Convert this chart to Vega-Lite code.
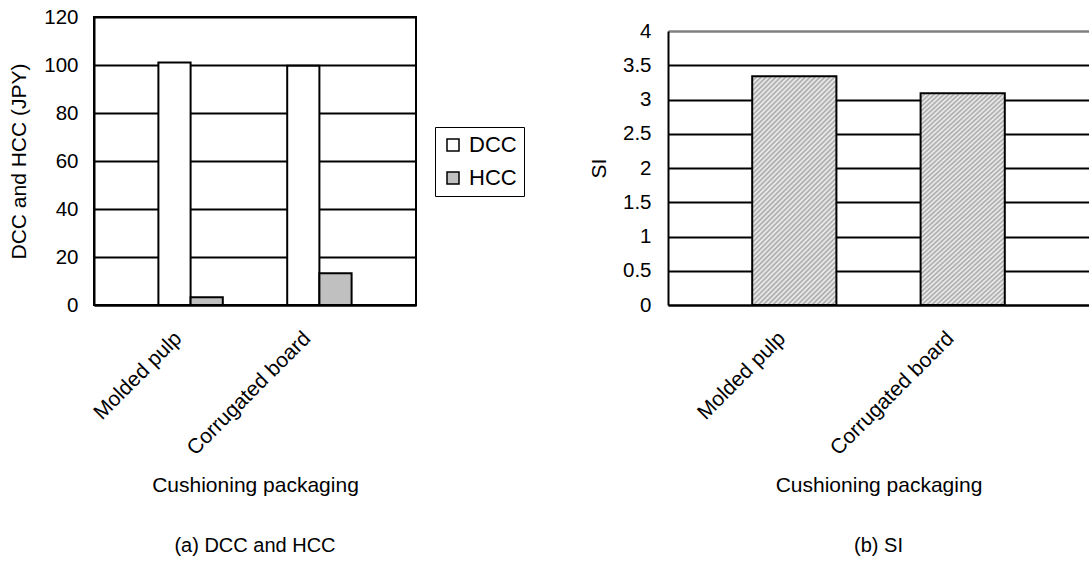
{
  "$schema": "https://vega.github.io/schema/vega-lite/v6.json",
  "padding": {"left": 7, "top": 6, "right": 0, "bottom": 0},
  "background": "white",
  "spacing": 171,
  "config": {
    "font": "Liberation Sans",
    "axis": {
      "labelFontSize": 20.5,
      "titleFontSize": 21,
      "labelColor": "black",
      "titleColor": "black",
      "titleFontWeight": "normal",
      "ticks": false,
      "domainColor": "black",
      "domainWidth": 2,
      "gridColor": "black",
      "gridWidth": 2,
      "gridOpacity": 1
    },
    "axisX": {"labelFontSize": 21},
    "legend": {"strokeColor": "black", "fillColor": "white"},
    "title": {"fontSize": 20, "fontWeight": "normal", "color": "black"}
  },
  "hconcat": [
    {
      "width": 322,
      "height": 288,
      "view": {"stroke": "black", "strokeWidth": 2},
      "title": {"text": "(a) DCC and HCC", "orient": "bottom", "frame": "group", "anchor": "middle", "baseline": "top", "offset": 41},
      "data": {
        "values": [
          {"packaging": "Molded pulp", "cost": "DCC", "value": 101},
          {"packaging": "Molded pulp", "cost": "HCC", "value": 3.2},
          {"packaging": "Corrugated board", "cost": "DCC", "value": 99.7},
          {"packaging": "Corrugated board", "cost": "HCC", "value": 13.2}
        ]
      },
      "mark": {"type": "bar", "stroke": "black", "strokeWidth": 2},
      "encoding": {
        "x": {
          "field": "packaging",
          "type": "nominal",
          "sort": ["Molded pulp", "Corrugated board"],
          "scale": {"paddingInner": 0.5, "paddingOuter": 0.5},
          "axis": {
            "title": "Cushioning packaging",
            "labelAngle": -45,
            "labelAlign": "right",
            "labelBaseline": "middle",
            "labelPadding": 30,
            "labelOffset": -12,
            "titlePadding": 16,
            "grid": false
          }
        },
        "xOffset": {
          "field": "cost",
          "type": "nominal",
          "sort": ["DCC", "HCC"],
          "scale": {"paddingInner": 0, "paddingOuter": 0}
        },
        "y": {
          "field": "value",
          "type": "quantitative",
          "scale": {"domain": [0, 120], "nice": false},
          "axis": {
            "title": "DCC and HCC (JPY)",
            "values": [0, 20, 40, 60, 80, 100, 120],
            "labelPadding": 16,
            "titlePadding": 14.5,
            "grid": true
          }
        },
        "fill": {
          "field": "cost",
          "type": "nominal",
          "sort": ["DCC", "HCC"],
          "scale": {"range": ["white", "#c0c0c0"]},
          "legend": {
            "title": null,
            "orient": "none",
            "legendX": 341,
            "legendY": 110,
            "direction": "vertical",
            "symbolType": "square",
            "symbolSize": 144,
            "symbolStrokeColor": "black",
            "symbolStrokeWidth": 1.5,
            "labelFontSize": 22,
            "labelColor": "black",
            "labelOffset": 5,
            "rowPadding": 11,
            "padding": 7
          }
        }
      }
    },
    {
      "width": 421,
      "height": 288,
      "view": {"stroke": null},
      "title": {"text": "(b) SI", "orient": "bottom", "frame": "group", "anchor": "middle", "baseline": "top", "offset": 41},
      "data": {
        "values": [
          {"packaging": "Molded pulp", "SI": 3.34},
          {"packaging": "Corrugated board", "SI": 3.09}
        ]
      },
      "resolve": {"axis": {"y": "independent"}},
      "encoding": {
        "x": {
          "field": "packaging",
          "type": "nominal",
          "sort": ["Molded pulp", "Corrugated board"],
          "scale": {"paddingInner": 0.5, "paddingOuter": 0.5},
          "axis": {
            "title": "Cushioning packaging",
            "labelAngle": -45,
            "labelAlign": "right",
            "labelBaseline": "middle",
            "labelPadding": 30,
            "labelOffset": -12,
            "titlePadding": 16,
            "grid": false
          }
        },
        "y": {
          "field": "SI",
          "type": "quantitative",
          "scale": {"domain": [0, 4], "nice": false, "range": [288, 14]},
          "axis": {
            "title": "SI",
            "format": "~g",
            "values": [0, 0.5, 1, 1.5, 2, 2.5, 3, 3.5, 4],
            "labelPadding": 17,
            "titlePadding": 13,
            "grid": true,
            "gridColor": {"condition": {"test": "datum.value === 4", "value": "#808080"}, "value": "black"},
            "gridWidth": {"condition": {"test": "datum.value === 4", "value": 2.5}, "value": 2}
          }
        }
      },
      "layer": [
        {
          "mark": {
            "type": "bar",
            "strokeWidth": 0,
            "fill": {
              "gradient": "linear",
              "x1": 0, "y1": 0, "x2": 0.443, "y2": 1.205,
              "stops": [
                {"offset": 0, "color": "#a6a6a6"}, {"offset": 0.0078125, "color": "#f2f2f2"},
                {"offset": 0.015625, "color": "#a6a6a6"}, {"offset": 0.0234375, "color": "#f2f2f2"},
                {"offset": 0.03125, "color": "#a6a6a6"}, {"offset": 0.0390625, "color": "#f2f2f2"},
                {"offset": 0.046875, "color": "#a6a6a6"}, {"offset": 0.0546875, "color": "#f2f2f2"},
                {"offset": 0.0625, "color": "#a6a6a6"}, {"offset": 0.0703125, "color": "#f2f2f2"},
                {"offset": 0.078125, "color": "#a6a6a6"}, {"offset": 0.0859375, "color": "#f2f2f2"},
                {"offset": 0.09375, "color": "#a6a6a6"}, {"offset": 0.1015625, "color": "#f2f2f2"},
                {"offset": 0.109375, "color": "#a6a6a6"}, {"offset": 0.1171875, "color": "#f2f2f2"},
                {"offset": 0.125, "color": "#a6a6a6"}, {"offset": 0.1328125, "color": "#f2f2f2"},
                {"offset": 0.140625, "color": "#a6a6a6"}, {"offset": 0.1484375, "color": "#f2f2f2"},
                {"offset": 0.15625, "color": "#a6a6a6"}, {"offset": 0.1640625, "color": "#f2f2f2"},
                {"offset": 0.171875, "color": "#a6a6a6"}, {"offset": 0.1796875, "color": "#f2f2f2"},
                {"offset": 0.1875, "color": "#a6a6a6"}, {"offset": 0.1953125, "color": "#f2f2f2"},
                {"offset": 0.203125, "color": "#a6a6a6"}, {"offset": 0.2109375, "color": "#f2f2f2"},
                {"offset": 0.21875, "color": "#a6a6a6"}, {"offset": 0.2265625, "color": "#f2f2f2"},
                {"offset": 0.234375, "color": "#a6a6a6"}, {"offset": 0.2421875, "color": "#f2f2f2"},
                {"offset": 0.25, "color": "#a6a6a6"}, {"offset": 0.2578125, "color": "#f2f2f2"},
                {"offset": 0.265625, "color": "#a6a6a6"}, {"offset": 0.2734375, "color": "#f2f2f2"},
                {"offset": 0.28125, "color": "#a6a6a6"}, {"offset": 0.2890625, "color": "#f2f2f2"},
                {"offset": 0.296875, "color": "#a6a6a6"}, {"offset": 0.3046875, "color": "#f2f2f2"},
                {"offset": 0.3125, "color": "#a6a6a6"}, {"offset": 0.3203125, "color": "#f2f2f2"},
                {"offset": 0.328125, "color": "#a6a6a6"}, {"offset": 0.3359375, "color": "#f2f2f2"},
                {"offset": 0.34375, "color": "#a6a6a6"}, {"offset": 0.3515625, "color": "#f2f2f2"},
                {"offset": 0.359375, "color": "#a6a6a6"}, {"offset": 0.3671875, "color": "#f2f2f2"},
                {"offset": 0.375, "color": "#a6a6a6"}, {"offset": 0.3828125, "color": "#f2f2f2"},
                {"offset": 0.390625, "color": "#a6a6a6"}, {"offset": 0.3984375, "color": "#f2f2f2"},
                {"offset": 0.40625, "color": "#a6a6a6"}, {"offset": 0.4140625, "color": "#f2f2f2"},
                {"offset": 0.421875, "color": "#a6a6a6"}, {"offset": 0.4296875, "color": "#f2f2f2"},
                {"offset": 0.4375, "color": "#a6a6a6"}, {"offset": 0.4453125, "color": "#f2f2f2"},
                {"offset": 0.453125, "color": "#a6a6a6"}, {"offset": 0.4609375, "color": "#f2f2f2"},
                {"offset": 0.46875, "color": "#a6a6a6"}, {"offset": 0.4765625, "color": "#f2f2f2"},
                {"offset": 0.484375, "color": "#a6a6a6"}, {"offset": 0.4921875, "color": "#f2f2f2"},
                {"offset": 0.5, "color": "#a6a6a6"}, {"offset": 0.5078125, "color": "#f2f2f2"},
                {"offset": 0.515625, "color": "#a6a6a6"}, {"offset": 0.5234375, "color": "#f2f2f2"},
                {"offset": 0.53125, "color": "#a6a6a6"}, {"offset": 0.5390625, "color": "#f2f2f2"},
                {"offset": 0.546875, "color": "#a6a6a6"}, {"offset": 0.5546875, "color": "#f2f2f2"},
                {"offset": 0.5625, "color": "#a6a6a6"}, {"offset": 0.5703125, "color": "#f2f2f2"},
                {"offset": 0.578125, "color": "#a6a6a6"}, {"offset": 0.5859375, "color": "#f2f2f2"},
                {"offset": 0.59375, "color": "#a6a6a6"}, {"offset": 0.6015625, "color": "#f2f2f2"},
                {"offset": 0.609375, "color": "#a6a6a6"}, {"offset": 0.6171875, "color": "#f2f2f2"},
                {"offset": 0.625, "color": "#a6a6a6"}, {"offset": 0.6328125, "color": "#f2f2f2"},
                {"offset": 0.640625, "color": "#a6a6a6"}, {"offset": 0.6484375, "color": "#f2f2f2"},
                {"offset": 0.65625, "color": "#a6a6a6"}, {"offset": 0.6640625, "color": "#f2f2f2"},
                {"offset": 0.671875, "color": "#a6a6a6"}, {"offset": 0.6796875, "color": "#f2f2f2"},
                {"offset": 0.6875, "color": "#a6a6a6"}, {"offset": 0.6953125, "color": "#f2f2f2"},
                {"offset": 0.703125, "color": "#a6a6a6"}, {"offset": 0.7109375, "color": "#f2f2f2"},
                {"offset": 0.71875, "color": "#a6a6a6"}, {"offset": 0.7265625, "color": "#f2f2f2"},
                {"offset": 0.734375, "color": "#a6a6a6"}, {"offset": 0.7421875, "color": "#f2f2f2"},
                {"offset": 0.75, "color": "#a6a6a6"}, {"offset": 0.7578125, "color": "#f2f2f2"},
                {"offset": 0.765625, "color": "#a6a6a6"}, {"offset": 0.7734375, "color": "#f2f2f2"},
                {"offset": 0.78125, "color": "#a6a6a6"}, {"offset": 0.7890625, "color": "#f2f2f2"},
                {"offset": 0.796875, "color": "#a6a6a6"}, {"offset": 0.8046875, "color": "#f2f2f2"},
                {"offset": 0.8125, "color": "#a6a6a6"}, {"offset": 0.8203125, "color": "#f2f2f2"},
                {"offset": 0.828125, "color": "#a6a6a6"}, {"offset": 0.8359375, "color": "#f2f2f2"},
                {"offset": 0.84375, "color": "#a6a6a6"}, {"offset": 0.8515625, "color": "#f2f2f2"},
                {"offset": 0.859375, "color": "#a6a6a6"}, {"offset": 0.8671875, "color": "#f2f2f2"},
                {"offset": 0.875, "color": "#a6a6a6"}, {"offset": 0.8828125, "color": "#f2f2f2"},
                {"offset": 0.890625, "color": "#a6a6a6"}, {"offset": 0.8984375, "color": "#f2f2f2"},
                {"offset": 0.90625, "color": "#a6a6a6"}, {"offset": 0.9140625, "color": "#f2f2f2"},
                {"offset": 0.921875, "color": "#a6a6a6"}, {"offset": 0.9296875, "color": "#f2f2f2"},
                {"offset": 0.9375, "color": "#a6a6a6"}, {"offset": 0.9453125, "color": "#f2f2f2"},
                {"offset": 0.953125, "color": "#a6a6a6"}, {"offset": 0.9609375, "color": "#f2f2f2"},
                {"offset": 0.96875, "color": "#a6a6a6"}, {"offset": 0.9765625, "color": "#f2f2f2"},
                {"offset": 0.984375, "color": "#a6a6a6"}, {"offset": 0.9921875, "color": "#f2f2f2"},
                {"offset": 1, "color": "#a6a6a6"}
              ]
            }
          }
        },
        {
          "mark": {"type": "bar", "filled": false, "stroke": "black", "strokeWidth": 2},
          "encoding": {
            "y": {
              "field": "SI",
              "type": "quantitative",
              "scale": {"domain": [0, 4], "nice": false, "range": [288, 14]},
              "axis": {
                "orient": "right",
                "title": null,
                "labels": false,
                "ticks": false,
                "grid": false,
                "domain": true,
                "domainColor": "#808080",
                "domainWidth": 1
              }
            }
          }
        }
      ]
    }
  ]
}
